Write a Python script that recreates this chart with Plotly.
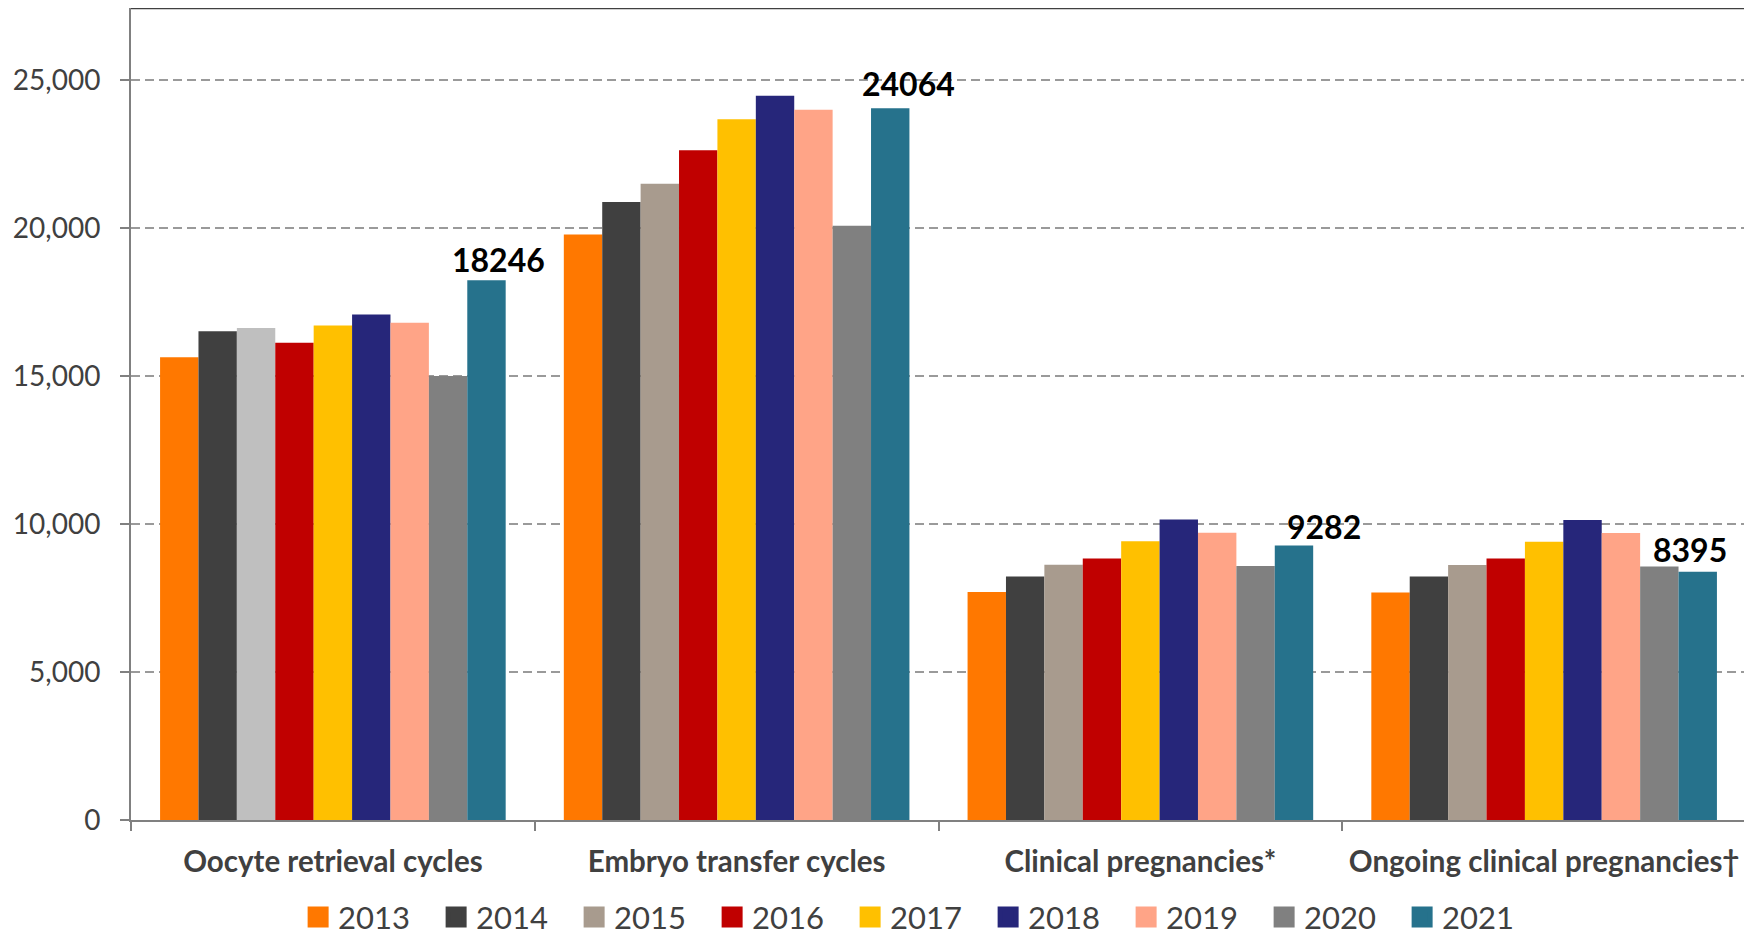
import plotly.graph_objects as go

categories = ["Oocyte retrieval cycles", "Embryo transfer cycles",
              "Clinical pregnancies*", "Ongoing clinical pregnancies\u2020"]
years = ["2013", "2014", "2015", "2016", "2017", "2018", "2019", "2020", "2021"]

v2013 = [15640, 19790, 7710, 7690]
v2014 = [16520, 20890, 8230, 8230]
v2015 = [16630, 21510, 8630, 8620]
v2016 = [16130, 22640, 8840, 8840]
v2017 = [16720, 23690, 9420, 9410]
v2018 = [17090, 24480, 10160, 10140]
v2019 = [16810, 24010, 9710, 9700]
v2020 = [15010, 20090, 8590, 8570]
v2021 = [18246, 24064, 9282, 8395]
series = [v2013, v2014, v2015, v2016, v2017, v2018, v2019, v2020, v2021]

colors = ["#FF7800", "#404040", "#A89B8E", "#C00000", "#FFC000",
          "#26267A", "#FFA487", "#808080", "#26728C"]
# 2015 bar of the first group is drawn in light grey in the original
colors_2015_bars = ["#BFBFBF", "#A89B8E", "#A89B8E", "#A89B8E"]

FONT = "Lato, 'Open Sans', sans-serif"

W, H = 1744, 927
ML, MR, MT, MB = 123, 6, 0, 115
BARGAP = 0.144

fig = go.Figure()
for i, (yr, vals) in enumerate(zip(years, series)):
    mc = colors_2015_bars if yr == "2015" else colors[i]
    fig.add_trace(go.Bar(x=categories, y=vals, name=yr, marker_color=mc,
                         marker_line_width=0, showlegend=False))

for yr, c in zip(years, colors):
    fig.add_trace(go.Scatter(x=[None], y=[None], mode="markers", name=yr,
                             marker=dict(symbol="square", size=16, color=c,
                                         line=dict(color=c, width=5)),
                             showlegend=True, hoverinfo="skip"))

# value labels above the 2021 bars (offset from the group centre to the last bar)
cat_w = (W - ML - MR) / len(categories)
bar_w = cat_w * (1 - BARGAP) / len(years)
last_bar_off = bar_w * (len(years) - 1) / 2
label_dx = [12, 18, 30, -8]
label_dy = [-1, 3, -3, 1]
annotations = []
for cat, v, dx, dy in zip(categories, v2021, label_dx, label_dy):
    annotations.append(dict(x=cat, y=v, xref="x", yref="y", text=str(v),
                            showarrow=False, xanchor="center", yanchor="bottom",
                            xshift=last_bar_off + dx, yshift=dy,
                            font=dict(family=FONT, size=32, color="#000000", weight="bold")))

# the page body adds an 8px margin, so the figure is sized to fit the window
fig.update_layout(
    width=W, height=H,
    margin=dict(l=ML, r=MR, t=MT, b=MB),
    paper_bgcolor="white", plot_bgcolor="white",
    barmode="group", bargap=BARGAP, bargroupgap=0,
    font=dict(family=FONT, color="#404040"),
    legend=dict(orientation="h", x=0.488, xanchor="center",
                yref="container", y=0.019, yanchor="middle",
                font=dict(size=31, color="#404040", family=FONT),
                entrywidth=93, entrywidthmode="pixels", bgcolor="rgba(0,0,0,0)"),
    xaxis=dict(type="category", showline=True, linecolor="#808080", linewidth=2,
               ticks="outside", tickson="boundaries", ticklen=9, tickcolor="#808080",
               tickwidth=1.5, showgrid=False, automargin=False,
               tickfont=dict(size=29.5, family=FONT, color="#404040", weight="bold"),
               ticklabelstandoff=15),
    yaxis=dict(range=[0, 27450], tickvals=[0, 5000, 10000, 15000, 20000, 25000],
               tickformat=",d", showline=True, linecolor="#808080", linewidth=2,
               ticks="outside", ticklen=9, tickcolor="#808080", tickwidth=1.5,
               showgrid=True, gridcolor="#9A9A9A", gridwidth=1.5, griddash="9px,5px",
               zeroline=False, automargin=False,
               tickfont=dict(size=28, family=FONT, color="#404040"),
               ticklabelstandoff=14),
    annotations=annotations,
    shapes=[
        dict(type="line", xref="paper", yref="paper", x0=0, x1=1, y0=1, y1=1,
             line=dict(color="#404040", width=2.5)),
        dict(type="line", xref="paper", yref="paper", x0=1, x1=1, y0=0, y1=1,
             line=dict(color="#404040", width=2.5)),
    ],
)

fig.write_html("out.html")
